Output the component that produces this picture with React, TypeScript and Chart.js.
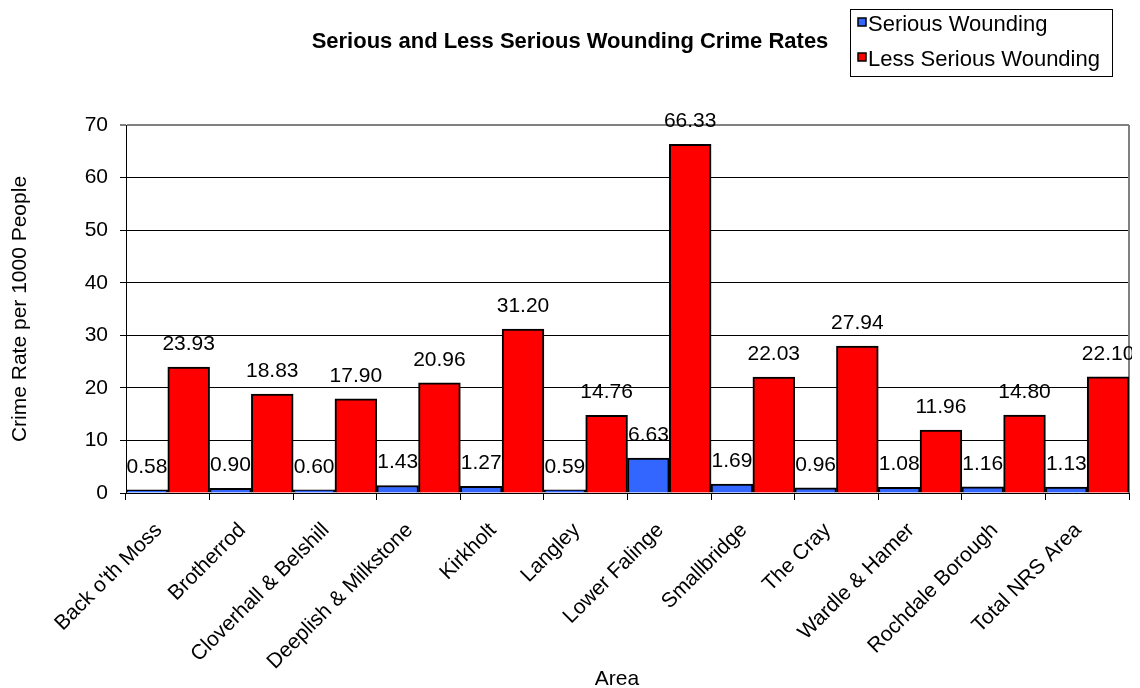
import React, { useEffect, useRef } from "react";
import { Chart, registerables } from "chart.js";

Chart.register(...registerables);

const areas = [
  "Back o'th Moss",
  "Brotherrod",
  "Cloverhall & Belshill",
  "Deeplish & Milkstone",
  "Kirkholt",
  "Langley",
  "Lower Falinge",
  "Smallbridge",
  "The Cray",
  "Wardle & Hamer",
  "Rochdale Borough",
  "Total NRS Area",
];
const seriousWounding = [0.58, 0.9, 0.6, 1.43, 1.27, 0.59, 6.63, 1.69, 0.96, 1.08, 1.16, 1.13];
const lessSeriousWounding = [23.93, 18.83, 17.9, 20.96, 31.2, 14.76, 66.33, 22.03, 27.94, 11.96, 14.8, 22.1];
const seriesNames = ["Serious Wounding", "Less Serious Wounding"];
const seriesColors = ["#3366FF", "#FF0000"];
const yTicks = [0, 10, 20, 30, 40, 50, 60, 70];
const chartTitle = "Serious and Less Serious Wounding Crime Rates";
const yTitle = "Crime Rate per 1000 People";
const xTitle = "Area";

const FONT = "'Liberation Sans', Arial, sans-serif";

const decorPlugin = {
  id: "decor",
  beforeDatasetsDraw(chart: any) {
    const { ctx, chartArea } = chart;
    ctx.save();
    ctx.strokeStyle = "#808080";
    ctx.lineWidth = 2;
    ctx.beginPath();
    ctx.moveTo(chartArea.right, chartArea.top);
    ctx.lineTo(chartArea.right, chartArea.bottom);
    ctx.stroke();
    ctx.restore();
  },
  afterDatasetsDraw(chart: any) {
    const { ctx } = chart;
    ctx.save();
    ctx.fillStyle = "#000";
    ctx.font = `21px ${FONT}`;
    ctx.textAlign = "center";
    ctx.textBaseline = "alphabetic";
    chart.data.datasets.forEach((ds: any, i: number) => {
      const meta = chart.getDatasetMeta(i);
      meta.data.forEach((el: any, j: number) => {
        ctx.fillText(Number(ds.data[j]).toFixed(2), el.x, el.y - 17);
      });
    });
    ctx.restore();
  },
  afterDraw(chart: any) {
    const { ctx } = chart;
    ctx.save();
    // title
    ctx.fillStyle = "#000";
    ctx.font = `bold 22px ${FONT}`;
    ctx.textAlign = "center";
    ctx.textBaseline = "middle";
    ctx.fillText(chartTitle, 562, 34);
    // x axis title
    ctx.font = `21px ${FONT}`;
    ctx.fillText(xTitle, 609, 671);
    // legend box
    ctx.fillStyle = "#fff";
    ctx.fillRect(842.5, 1.5, 262, 67);
    ctx.strokeStyle = "#000";
    ctx.lineWidth = 1;
    ctx.strokeRect(842.5, 1.5, 262, 67);
    const rows = [17, 52];
    seriesNames.forEach((name, i) => {
      ctx.fillStyle = seriesColors[i];
      ctx.fillRect(850, rows[i] - 7, 8, 8);
      ctx.strokeStyle = "#000";
      ctx.lineWidth = 1.5;
      ctx.strokeRect(850, rows[i] - 7, 8, 8);
      ctx.fillStyle = "#000";
      ctx.font = `22px ${FONT}`;
      ctx.textAlign = "left";
      ctx.textBaseline = "middle";
      ctx.fillText(name, 860, rows[i]);
    });
    ctx.restore();
  },
};

export default function App() {
  const ref = useRef<HTMLCanvasElement | null>(null);
  useEffect(() => {
    if (!ref.current) return;
    const chart = new Chart(ref.current, {
      type: "bar",
      data: {
        labels: areas,
        datasets: [
          {
            label: seriesNames[0],
            data: seriousWounding,
            backgroundColor: seriesColors[0],
            borderColor: "#000",
            borderWidth: 2,
            barPercentage: 1,
            categoryPercentage: 1,
          },
          {
            label: seriesNames[1],
            data: lessSeriousWounding,
            backgroundColor: seriesColors[1],
            borderColor: "#000",
            borderWidth: 2,
            barPercentage: 1,
            categoryPercentage: 1,
          },
        ],
      },
      options: {
        animation: false,
        responsive: false,
        maintainAspectRatio: false,
        layout: { padding: { top: 117, right: 3, left: 0, bottom: 0 } },
        plugins: {
          legend: { display: false },
          title: { display: false },
          tooltip: { enabled: false },
        },
        scales: {
          x: {
            type: "category",
            offset: true,
            afterFit: (s: any) => {
              s.height = 195;
            },
            grid: {
              offset: true,
              drawOnChartArea: false,
              drawTicks: true,
              tickLength: 7,
              color: "#000",
            },
            border: { color: "#000", width: 1 },
            ticks: {
              color: "#000",
              font: { family: FONT, size: 21 },
              maxRotation: 45,
              minRotation: 45,
              autoSkip: false,
              padding: 18,
              labelOffset: -9,
            },
          },
          y: {
            min: 0,
            max: 70,
            afterFit: (s: any) => {
              s.width = 118;
            },
            afterBuildTicks: (s: any) => {
              s.ticks = yTicks.map((v) => ({ value: v }));
            },
            grid: {
              color: (c: any) => (c.tick && c.tick.value === 70 ? "#808080" : "#000"),
              lineWidth: (c: any) => (c.tick && c.tick.value === 70 ? 2 : 1),
              tickLength: 6,
            },
            border: { color: "#000", width: 1 },
            ticks: {
              color: "#000",
              font: { family: FONT, size: 21 },
              padding: 12,
            },
            title: {
              display: true,
              text: yTitle,
              color: "#000",
              font: { family: FONT, size: 21, lineHeight: 1 },
              padding: { top: 2, bottom: 0 },
            },
          },
        },
      },
      plugins: [decorPlugin],
    });
    return () => chart.destroy();
  }, []);
  return (
    <div style={{ width: 1124, height: 680 }}>
      <canvas ref={ref} width={1124} height={680} style={{ display: "block" }} />
    </div>
  );
}
